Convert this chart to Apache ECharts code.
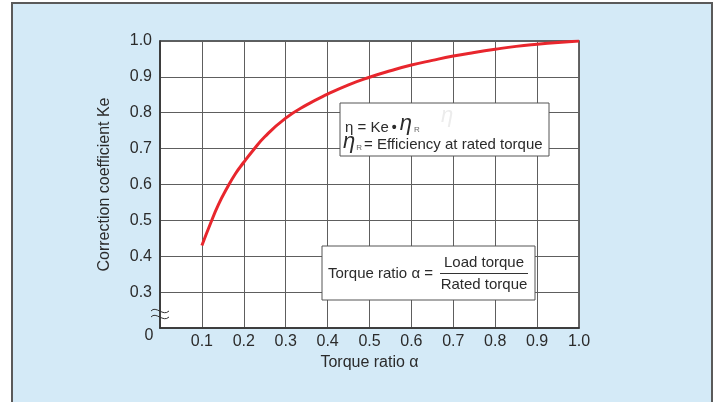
<!DOCTYPE html>
<html><head><meta charset="utf-8">
<script src="https://cdn.jsdelivr.net/npm/echarts@6/dist/echarts.min.js"></script>
<style>html,body{margin:0;padding:0;background:#fff}#c{width:720px;height:402px}</style>
</head><body><div id="c"></div>
<script>
var torqueRatio = [0.1, 0.12, 0.14, 0.16, 0.18, 0.2, 0.22, 0.25, 0.3, 0.35, 0.4, 0.45, 0.5, 0.55, 0.6, 0.65, 0.7, 0.75, 0.8, 0.85, 0.9, 0.95, 1.0];
var correctionKe = [0.43, 0.49, 0.545, 0.59, 0.63, 0.662, 0.692, 0.733, 0.785, 0.822, 0.852, 0.878, 0.899, 0.917, 0.933, 0.946, 0.958, 0.968, 0.977, 0.985, 0.991, 0.996, 1.0];
var xTitle = 'Torque ratio α';
var yTitle = 'Correction coefficient Ke';
var FONT = '"Liberation Sans", Arial, sans-serif';
var TXT = '#2b2b2b';

var chart = echarts.init(document.getElementById('c'));
var data = torqueRatio.map(function (x, i) { return [x, correctionKe[i]]; });

chart.setOption({
  animation: false,
  backgroundColor: '#ffffff',
  grid: { left: 160, right: 141, top: 41, bottom: 74, show: true, backgroundColor: '#ffffff', borderColor: '#333', borderWidth: 1.5 },
  xAxis: {
    type: 'value', min: 0, max: 1, interval: 0.1,
    name: xTitle, nameLocation: 'middle', nameGap: 27,
    nameTextStyle: { fontFamily: FONT, fontSize: 16, color: TXT },
    axisLine: { show: true, lineStyle: { color: '#333', width: 1.5 } },
    axisTick: { show: false },
    splitLine: { show: true, lineStyle: { color: '#5e5e5e', width: 1 } },
    axisLabel: { fontFamily: FONT, fontSize: 16, color: TXT, margin: 6,
      formatter: function (v) { return v === 0 ? '' : v.toFixed(1); } }
  },
  yAxis: {
    type: 'value', min: 0.2, max: 1.0, interval: 0.1,
    name: yTitle, nameLocation: 'middle', nameGap: 47,
    nameTextStyle: { fontFamily: FONT, fontSize: 16, color: TXT },
    axisLine: { show: true, lineStyle: { color: '#333', width: 1.5 } },
    axisTick: { show: false },
    splitLine: { show: true, lineStyle: { color: '#5e5e5e', width: 1 } },
    axisLabel: { fontFamily: FONT, fontSize: 16, color: TXT, margin: 8,
      formatter: function (v) { return Math.abs(v - 0.2) < 1e-6 ? '' : v.toFixed(1); } }
  },
  series: [{
    type: 'line', data: data, smooth: 0.5, showSymbol: false, z: 5,
    lineStyle: { color: '#e8262d', width: 3 }
  }]
});

var o = chart.convertToPixel({ gridIndex: 0 }, [0, 0.2]);
var ox = o[0], oy = o[1];

chart.setOption({
  graphic: [
    { type: 'rect', z: -10, silent: true,
      shape: { x: 12, y: 3, width: 700, height: 420 },
      style: { fill: '#d4eaf7', stroke: '#5a5a5a', lineWidth: 2 } },
    { type: 'text', z: 10, x: ox - 11, y: oy + 8,
      style: { text: '0', font: '16px ' + FONT, fill: TXT, textAlign: 'center', textVerticalAlign: 'middle' } },
    { type: 'bezierCurve', z: 10,
      shape: { x1: ox - 9, y1: oy - 17, cpx1: ox - 4, cpy1: oy - 23, cpx2: ox + 3, cpy2: oy - 11, x2: ox + 9, y2: oy - 17 },
      style: { stroke: '#333', lineWidth: 1, fill: null } },
    { type: 'bezierCurve', z: 10,
      shape: { x1: ox - 9, y1: oy - 11, cpx1: ox - 4, cpy1: oy - 17, cpx2: ox + 3, cpy2: oy - 5, x2: ox + 9, y2: oy - 11 },
      style: { stroke: '#333', lineWidth: 1, fill: null } },
    // Box 1
    { type: 'rect', z: 20, shape: { x: 340, y: 103, width: 209, height: 53 },
      style: { fill: '#ffffff', stroke: '#555', lineWidth: 1 } },
    { type: 'text', z: 21, x: 447, y: 116,
      style: { text: 'η', font: 'italic 22px ' + FONT, fill: '#ececec', textAlign: 'center', textVerticalAlign: 'middle' } },
    { type: 'text', z: 22, x: 345, y: 124,
      style: {
        text: '{a|η = Ke}{d|•}{e|η}{s|R}',
        textVerticalAlign: 'middle',
        rich: {
          a: { font: '15px ' + FONT, fill: TXT, verticalAlign: 'bottom' },
          d: { font: 'bold 14px ' + FONT, fill: TXT, verticalAlign: 'bottom', padding: [0, 3, 0, 3] },
          e: { font: 'italic 22px ' + FONT, fill: TXT, verticalAlign: 'bottom' },
          s: { font: '8px ' + FONT, fill: '#666', verticalAlign: 'bottom', padding: [0, 0, 1, 2] }
        }
      } },
    { type: 'text', z: 22, x: 343, y: 142,
      style: {
        text: '{e|η}{s|R}{a|= Efficiency at rated torque}',
        textVerticalAlign: 'middle',
        rich: {
          a: { font: '15px ' + FONT, fill: TXT, verticalAlign: 'bottom', padding: [0, 0, 1, 1] },
          e: { font: 'italic 22px ' + FONT, fill: TXT, verticalAlign: 'bottom' },
          s: { font: '8px ' + FONT, fill: '#666', verticalAlign: 'bottom', padding: [0, 1, 1, 1] }
        }
      } },
    // Box 2
    { type: 'rect', z: 20, shape: { x: 322, y: 246, width: 213, height: 54 },
      style: { fill: '#ffffff', stroke: '#555', lineWidth: 1 } },
    { type: 'text', z: 22, x: 328, y: 274,
      style: { text: 'Torque ratio α =', font: '15px ' + FONT, fill: TXT, textVerticalAlign: 'middle' } },
    { type: 'text', z: 22, x: 484, y: 263,
      style: { text: 'Load torque', font: '15px ' + FONT, fill: TXT, textAlign: 'center', textVerticalAlign: 'middle' } },
    { type: 'line', z: 22, shape: { x1: 440, y1: 273.5, x2: 528, y2: 273.5 },
      style: { stroke: '#333', lineWidth: 1 } },
    { type: 'text', z: 22, x: 484, y: 285,
      style: { text: 'Rated torque', font: '15px ' + FONT, fill: TXT, textAlign: 'center', textVerticalAlign: 'middle' } }
  ]
});
</script></body></html>
